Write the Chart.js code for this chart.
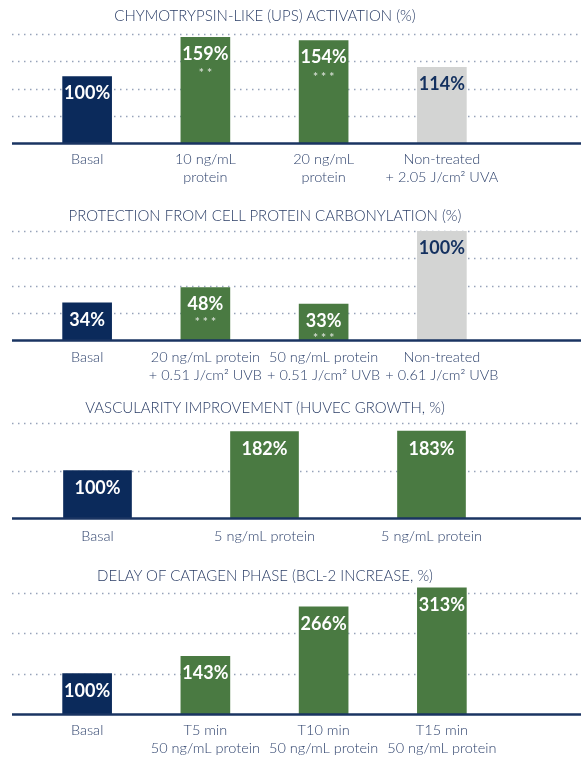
<!DOCTYPE html>
<html><head><meta charset="utf-8">
<script src="https://cdn.jsdelivr.net/npm/chart.js@4.4.1/dist/chart.umd.min.js"></script>
<style>
html,body{margin:0;padding:0;background:#fff;width:581px;height:761px;overflow:hidden;}
canvas{position:absolute;left:0;}
.title{position:absolute;left:0;width:530px;text-align:center;font-family:Lato,sans-serif;font-weight:300;font-size:15px;line-height:18px;color:#2a3d66;white-space:nowrap;}
</style></head><body>
<canvas id="c1" width="581" height="195" style="top:0"></canvas>
<canvas id="c2" width="581" height="195" style="top:195px"></canvas>
<canvas id="c3" width="581" height="170" style="top:390px"></canvas>
<canvas id="c4" width="581" height="201" style="top:560px"></canvas>
<div class="title" style="top:6px">CHYMOTRYPSIN-LIKE (UPS) ACTIVATION (%)</div>
<div class="title" style="top:206px">PROTECTION FROM CELL PROTEIN CARBONYLATION (%)</div>
<div class="title" style="top:398px">VASCULARITY IMPROVEMENT (HUVEC GROWTH, %)</div>
<div class="title" style="top:566px">DELAY OF CATAGEN PHASE (BCL-2 INCREASE, %)</div>
<script>
// ---- Panel 1: UPS activation ----
const upsCategories = [['Basal'], ['10 ng/mL','protein'], ['20 ng/mL','protein'], ['Non-treated','+ 2.05 J/cm² UVA']];
const upsValues = [100, 159, 154, 114];
const upsStars = ['', '**', '***', ''];
const upsGroups = ['basal', 'treated', 'treated', 'control'];
const upsGrid = [41, 82, 123, 164];

// ---- Panel 2: carbonylation ----
const carbCategories = [['Basal'], ['20 ng/mL protein','+ 0.51 J/cm² UVB'], ['50 ng/mL protein','+ 0.51 J/cm² UVB'], ['Non-treated','+ 0.61 J/cm² UVB']];
const carbValues = [34, 48, 33, 100];
const carbStars = ['', '***', '***', ''];
const carbGroups = ['basal', 'treated', 'treated', 'control'];
const carbGrid = [25, 50, 75, 100];

// ---- Panel 3: vascularity ----
const vascCategories = [['Basal'], ['5 ng/mL protein'], ['5 ng/mL protein']];
const vascValues = [100, 182, 183];
const vascStars = ['', '', ''];
const vascGroups = ['basal', 'treated', 'treated'];
const vascGrid = [100, 200];

// ---- Panel 4: catagen ----
const catCategories = [['Basal'], ['T5 min','50 ng/mL protein'], ['T10 min','50 ng/mL protein'], ['T15 min','50 ng/mL protein']];
const catValues = [100, 143, 266, 313];
const catStars = ['', '', '', ''];
const catGroups = ['basal', 'treated', 'treated', 'treated'];
const catGrid = [100, 200, 300];

const groupColor = {basal: '#0b2a5b', treated: '#4a7a42', control: '#d3d4d3'};
const groupLabelColor = {basal: '#ffffff', treated: '#ffffff', control: '#13305f'};

const decoPlugin = {
  id: 'deco',
  beforeDatasetsDraw(chart, args, o) {
    const ctx = chart.ctx, y = chart.scales.y;
    ctx.save();
    ctx.strokeStyle = '#97a3ba';
    ctx.lineWidth = 1.5;
    ctx.setLineDash([1.5, 4.5]);
    o.grid.forEach(v => {
      const py = Math.round(y.getPixelForValue(v)) + 0.5;
      ctx.beginPath(); ctx.moveTo(12, py); ctx.lineTo(chart.width, py); ctx.stroke();
    });
    ctx.restore();
  },
  afterDatasetsDraw(chart, args, o) {
    const ctx = chart.ctx, y = chart.scales.y;
    ctx.save();
    const by = y.getPixelForValue(0) + 0.5;
    ctx.strokeStyle = '#1a3462'; ctx.lineWidth = 2.5;
    ctx.beginPath(); ctx.moveTo(12, by); ctx.lineTo(chart.width, by); ctx.stroke();
    const meta = chart.getDatasetMeta(0);
    ctx.textAlign = 'center'; ctx.textBaseline = 'middle';
    meta.data.forEach((bar, i) => {
      ctx.fillStyle = groupLabelColor[o.groups[i]];
      ctx.font = 'bold 18px Lato, sans-serif';
      ctx.fillText(o.values[i] + '%', bar.x, bar.y + o.labelOffset);
      if (o.stars[i]) {
        ctx.fillStyle = '#d2dbcf';
        ctx.font = 'bold 12px Lato, sans-serif';
        ctx.letterSpacing = '3px';
        ctx.fillText(o.stars[i], bar.x + 1.5, bar.y + o.starOffset);
        ctx.letterSpacing = '0px';
      }
    });
    ctx.restore();
  }
};

function makeChart(id, cats, vals, stars, groups, grid, cfg) {
  new Chart(document.getElementById(id), {
    type: 'bar',
    data: {
      labels: cats,
      datasets: [{
        data: vals,
        backgroundColor: groups.map(g => groupColor[g]),
        barThickness: cfg.barW,
        borderWidth: 0
      }]
    },
    options: {
      responsive: false,
      animation: false,
      devicePixelRatio: 1,
      layout: {padding: {top: cfg.top, left: cfg.left, right: cfg.right, bottom: 0}},
      plugins: {
        legend: {display: false},
        tooltip: {enabled: false},
        title: {display: false},
        deco: {grid: grid, values: vals, stars: stars, groups: groups, labelOffset: cfg.labelOffset, starOffset: cfg.starOffset}
      },
      scales: {
        x: {
          grid: {display: false, drawTicks: false},
          border: {display: false},
          ticks: {
            autoSkip: false, maxRotation: 0, minRotation: 0,
            padding: cfg.tickPad,
            color: '#2f436d',
            font: {family: 'Lato, sans-serif', size: 14.5, weight: '300', lineHeight: 1.25}
          },
          afterFit: s => { s.height = cfg.axisH; }
        },
        y: {
          display: false,
          min: 0,
          max: cfg.max
        }
      }
    },
    plugins: [decoPlugin]
  });
}

makeChart('c1', upsCategories, upsValues, upsStars, upsGroups, upsGrid,
  {top: 34, left: 28, right: 80, axisH: 52, max: 164, barW: 49, labelOffset: 17, starOffset: 36, tickPad: 7});
makeChart('c2', carbCategories, carbValues, carbStars, carbGroups, carbGrid,
  {top: 36, left: 28, right: 80, axisH: 50, max: 100, barW: 49, labelOffset: 17, starOffset: 34, tickPad: 8});
makeChart('c3', vascCategories, vascValues, vascStars, vascGroups, vascGrid,
  {top: 33, left: 14, right: 66, axisH: 42, max: 200, barW: 68, labelOffset: 18, starOffset: 34, tickPad: 9});
makeChart('c4', catCategories, catValues, catStars, catGroups, catGrid,
  {top: 25, left: 28, right: 80, axisH: 47, max: 320, barW: 49, labelOffset: 17, starOffset: 34, tickPad: 7});
</script>
</body></html>
